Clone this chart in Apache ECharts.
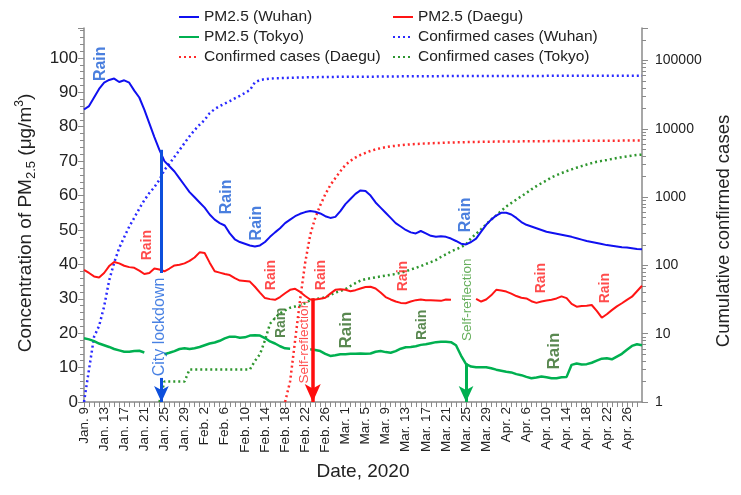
<!DOCTYPE html>
<html>
<head>
<meta charset="utf-8">
<script src="https://cdn.jsdelivr.net/npm/echarts@6/dist/echarts.min.js"></script>
<style>html,body{margin:0;padding:0;background:#fff}#c{width:741px;height:495px}</style>
</head>
<body>
<div id="c"></div>
<script>
// ---- tick labels (every 4th day from Jan. 9, 2020) ----
const tickLabels = ['Jan. 9','Jan. 13','Jan. 17','Jan. 21','Jan. 25','Jan. 29','Feb. 2','Feb. 6','Feb. 10','Feb. 14','Feb. 18','Feb. 22','Feb. 26','Mar. 1','Mar. 5','Mar. 9','Mar. 13','Mar. 17','Mar. 21','Mar. 25','Mar. 29','Apr. 2','Apr. 6','Apr. 10','Apr. 14','Apr. 18','Apr. 22','Apr. 26'];

// ---- daily values, day 0 = Jan. 9 ... day 111 = Apr. 29 ----
const pmWuhan = [85,86,88.5,91,92.8,93.6,94,93,93.5,92.8,
  90.5,88.5,85,81,77,73.3,70,68.5,67,65,
  63,61,59.5,58,56.5,54.5,53,52,51.3,49,
  47.3,46.5,46,45.5,45.2,45.5,46.5,48,49.3,50.5,
  52,53,54,54.7,55.2,55.5,55.3,54.8,54,53.5,
  53.8,55.5,57.5,59,60.5,61.5,61.3,60,58,56.5,
  55,53.5,52,51,50,49.3,49,49.7,49,48.3,
  48,48.2,48,47.5,46.8,46,45.8,46.5,47.5,49.5,
  51.5,53,54.2,55,55,54.5,53.5,52.3,51.5,51,
  50.5,50,49.5,49.2,48.9,48.6,48.3,48,47.6,47.2,
  46.8,46.5,46.2,45.9,45.6,45.4,45.2,45,44.9,44.7,44.5,44.4];

const pmDaegu = [38.4,37.5,36.5,36.2,37.5,39.5,40.7,40.3,39.6,39.2,
  39,38.2,37.2,37.5,38.8,38.5,38,38.8,39.7,39.9,
  40.3,41,42,43.5,43.3,40.5,38,37.6,37.2,36.9,
  36,35.3,35.2,35,33.5,31.8,30.2,29.9,29.7,30.5,
  31.6,32.6,32.9,32,30.8,29.8,29.8,30,30.3,31.5,
  32.6,32.8,32.6,32.2,32.5,33,33.4,33.5,33,31.8,
  30.5,29.8,29.2,28.8,28.7,29.2,29.6,29.8,29.6,29.6,
  29.5,29.4,29.8,29.7,null,null,null,null,30,29.2,
  29.8,31,32.6,32.4,32.1,31.5,30.8,30.3,30.1,29.3,
  28.8,29.2,29.5,29.7,30.1,30.7,30.2,28.5,27.7,27.9,
  28,28.2,26.5,24.5,25.5,26.7,27.8,28.7,29.7,30.6,32.2,33.8];

const pmTokyo = [18.5,18.2,17.7,17,16.5,16,15.4,15,14.6,14.6,
  14.8,14.9,14.4,null,null,null,13.9,14.3,14.8,15.4,
  15.6,15.4,15.6,16,16.5,17,17.3,17.8,18.5,19,
  19,18.7,18.8,19.3,19.4,19.3,18.6,17.6,17,16.2,
  15.6,15.5,null,null,null,15.3,15.1,14.8,14,13.4,
  13.6,13.9,13.9,14,14,14.1,14,14.1,14.6,14.8,
  14.5,14.3,14.8,15.5,15.9,16,16.2,16.6,16.8,17.1,
  17.4,17.5,17.5,17.4,16.5,13.5,11,10.3,10.1,10.1,
  10.1,9.8,9.4,9.1,8.8,8.6,8.1,7.8,7.3,6.9,
  7.1,7.4,7.2,6.9,6.9,7.2,7.3,10.8,11.2,10.9,
  11,11.4,12,12.6,12.7,12.4,13.2,14,15.2,16.3,16.8,16.5];

const casesWuhan = [1,3,9,13,25,60,110,180,260,370,
  500,680,900,1150,1400,1800,2500,3100,3900,4900,
  6200,7800,9600,11500,13500,17000,19500,21500,23500,25500,
  28000,30500,33500,37000,48000,52000,53500,54500,55000,55300,
  55600,55900,56200,56500,56700,56900,57100,57300,57500,57600,
  57700,57800,57900,58000,58000,58100,58100,58200,58200,58300,
  58400,58500,58600,58700,58800,58900,59000,59000,59100,59100,
  59200,59200,59300,59300,59400,59400,59500,59500,59500,59500,
  59500,59500,59600,59600,59600,59600,59700,59700,59700,59700,
  59700,59700,59700,59800,59800,59800,59800,59800,59800,59800,
  59800,59800,59800,59800,59800,59800,59800,59800,59800,59800,59800,59800];

const casesDaegu = [null,null,null,null,null,null,null,null,null,null,
  null,null,null,null,null,null,null,null,null,null,
  null,null,null,null,null,null,null,null,null,null,
  null,null,null,null,null,null,null,null,null,null,
  1,2,8,32,110,280,500,760,1100,1500,
  1900,2400,2950,3400,3800,4150,4450,4750,5000,5200,
  5400,5550,5650,5750,5850,5930,6000,6060,6110,6160,
  6200,6240,6280,6310,6340,6370,6400,6420,6440,6460,
  6480,6500,6510,6520,6530,6540,6550,6560,6570,6580,
  6590,6600,6610,6620,6630,6640,6650,6660,6670,6680,
  6690,6700,6700,6710,6710,6720,6720,6730,6730,6740,6740,6750];

const casesTokyo = [null,null,null,null,null,null,null,null,null,null,
  null,null,null,null,null,1,2,2,2,2,
  2,3,3,3,3,3,3,3,3,3,
  3,3,3,3,4,5,8,14,17,20,
  22,24,25,26,28,31,32,33,34,37,
  40,42,45,50,55,60,63,65,67,69,
  71,73,75,78,82,87,92,98,105,112,
  120,133,145,160,172,185,205,250,290,340,
  400,470,540,630,730,820,920,1030,1150,1300,
  1450,1600,1750,1950,2100,2250,2400,2550,2700,2850,
  3000,3150,3300,3400,3500,3620,3740,3850,3950,4050,4150,4200];

// ---- annotation anchors in data coordinates [day, PM2.5] ----
const rainBlue = [[3.4,98.3],[28.4,59.6],[34.4,52],[76,54.4]];
const rainRed = [[12.6,45.6],[37.3,36.9],[47.2,36.9],[63.4,36.6],[90.9,36],[103.7,33.1]];
const rainGreenSmall = [[39.3,23],[67.2,22.4]];
const rainGreenBig = [[52.1,20.9],[93.6,14.8]];
const lockdownText = [15.0,21.8];
const selfRedText = [43.8,17.4];
const selfGreenText = [76.2,29.7];
const lockdownArrow = {x:15.4, top:73.3, gapTop:37.5, gapBottom:7};
const redArrow = {x:45.5, top:30.1};
const greenArrow = {x:76, top:11.2};

const FONT = '"Liberation Sans", Arial, sans-serif';
const toXY = arr => arr.map((v,i)=>[i,v]);

function textItem(pos, text, color, size, weight) {
  return {value: pos, label: {show:true, position:'inside', formatter:text, rotate:90,
    color:color, fontSize:size, fontWeight:weight||'normal', fontFamily:FONT}};
}
const notes = [];
rainBlue.forEach(p=>notes.push(textItem(p,'Rain','#1d5fd6',16,'bold')));
rainRed.forEach(p=>notes.push(textItem(p,'Rain','#ff1f1f',14,'bold')));
rainGreenSmall.forEach(p=>notes.push(textItem(p,'Rain','#2f6a24',14,'bold')));
rainGreenBig.forEach(p=>notes.push(textItem(p,'Rain','#2f6a24',17,'bold')));
notes.push(textItem(lockdownText,'City lockdown','#1a62dc',16,'normal'));
notes.push(textItem(selfRedText,'Self-reflection','#ff1f1f',13.5,'normal'));
notes.push(textItem(selfGreenText,'Self-reflection','#3f9a32',13.5,'normal'));

const chart = echarts.init(document.getElementById('c'), null, {renderer:'canvas'});
const axisGray = '#8a8a8a';
const lineSeries = (name, data, yIdx, color, width, type) => ({
  name, type:'line', data: toXY(data), yAxisIndex: yIdx, showSymbol:false, symbol:'none',
  connectNulls:false, smooth:false,
  lineStyle:{color, width, type: type||'solid'}, itemStyle:{color},
  emphasis:{disabled:true}, z: type ? 2 : 3
});

const sWuhan = lineSeries('PM2.5 (Wuhan)', pmWuhan, 0, '#1010f0', 2);
sWuhan.markLine = {silent:true, symbol:['none','arrow'], symbolSize:[11,16], label:{show:false},
  lineStyle:{color:'#0d4fdc', width:3, type:'solid'}, emphasis:{disabled:true},
  data:[
    [{coord:[lockdownArrow.x, lockdownArrow.top], symbol:'none'},{coord:[lockdownArrow.x, lockdownArrow.gapTop], symbol:'none'}],
    [{coord:[lockdownArrow.x, lockdownArrow.gapBottom], symbol:'none'},{coord:[lockdownArrow.x, 0]}]
  ]};
const sDaegu = lineSeries('PM2.5 (Daegu)', pmDaegu, 0, '#ff1414', 2);
sDaegu.markLine = {silent:true, symbol:['none','arrow'], symbolSize:[12,18], label:{show:false},
  lineStyle:{color:'#ff0d0d', width:3.5, type:'solid'}, emphasis:{disabled:true},
  data:[[{coord:[redArrow.x, redArrow.top], symbol:'none'},{coord:[redArrow.x, 0]}]]};
const sTokyo = lineSeries('PM2.5 (Tokyo)', pmTokyo, 0, '#00b050', 2.5);
sTokyo.markLine = {silent:true, symbol:['none','arrow'], symbolSize:[11,16], label:{show:false},
  lineStyle:{color:'#00b050', width:3, type:'solid'}, emphasis:{disabled:true},
  data:[[{coord:[greenArrow.x, greenArrow.top], symbol:'none'},{coord:[greenArrow.x, 0]}]]};

const dot = [2,3];
const legendBase = {top:4, orient:'vertical', itemWidth:20, itemHeight:14, itemGap:4,
  itemStyle:{opacity:0}, selectedMode:false,
  textStyle:{fontSize:15.5, color:'#222', fontFamily:FONT}};
const option = {
  animation:false,
  backgroundColor:'#fff',
  textStyle:{fontFamily:FONT},
  grid:{left:84, right:96, top:28, bottom:93, containLabel:false},
  legend:[
    Object.assign({left:173, data:['PM2.5 (Wuhan)','PM2.5 (Tokyo)','Confirmed cases (Daegu)']}, legendBase),
    Object.assign({left:387, data:['PM2.5 (Daegu)','Confirmed cases (Wuhan)','Confirmed cases (Tokyo)']}, legendBase)
  ],
  xAxis:{type:'value', min:0, max:111, interval:1,
    name:'Date, 2020', nameLocation:'middle', nameGap:60,
    nameTextStyle:{fontSize:19, color:'#222', fontFamily:FONT},
    axisLine:{lineStyle:{color:axisGray, width:1.5}},
    axisTick:{show:true, length:5, lineStyle:{color:axisGray}},
    splitLine:{show:false},
    axisLabel:{rotate:90, fontSize:13.5, color:'#222', margin:5, fontFamily:FONT,
      showMaxLabel:false,
      formatter:v => (v % 4 === 0 && tickLabels[v/4]) ? tickLabels[v/4] : ''}},
  yAxis:[
    {type:'value', min:0, max:108.7, interval:10, position:'left',
     name:'{a|Concentration of PM}{s|2.5}{a| (μg/m}{p|3}{a|)}', nameLocation:'middle', nameGap:46,
     nameTextStyle:{color:'#222', padding:[0,16,0,0], rich:{
       a:{fontSize:19, fontFamily:FONT, color:'#222', lineHeight:24, verticalAlign:'middle'},
       s:{fontSize:13, fontFamily:FONT, color:'#222', lineHeight:24, verticalAlign:'bottom', padding:[10,0,0,0]},
       p:{fontSize:12, fontFamily:FONT, color:'#222', lineHeight:24, verticalAlign:'top', padding:[0,0,8,0]}}},
     axisLine:{show:true, lineStyle:{color:axisGray, width:1.5}},
     axisTick:{show:true, length:6, lineStyle:{color:axisGray}},
     minorTick:{show:true, splitNumber:5, length:4, lineStyle:{color:axisGray}},
     splitLine:{show:false},
     axisLabel:{fontSize:17, color:'#222', margin:6, showMaxLabel:false, fontFamily:FONT}},
    {type:'log', logBase:10, min:1, max:300000, position:'right',
     name:'Cumulative confirmed cases', nameLocation:'middle', nameGap:72,
     nameTextStyle:{fontSize:18.5, color:'#222', fontFamily:FONT, padding:[0,32,0,0]},
     axisLine:{show:true, lineStyle:{color:axisGray, width:1.5}},
     axisTick:{show:true, length:6, lineStyle:{color:axisGray}},
     minorTick:{show:true, splitNumber:9, length:4, lineStyle:{color:axisGray}},
     splitLine:{show:false},
     axisLabel:{fontSize:14, color:'#222', margin:13, showMaxLabel:false, fontFamily:FONT,
       formatter:v => String(Math.round(v))}}
  ],
  series:[
    sWuhan, sDaegu, sTokyo,
    lineSeries('Confirmed cases (Wuhan)', casesWuhan, 1, '#2a2aff', 2.5, dot),
    lineSeries('Confirmed cases (Daegu)', casesDaegu, 1, '#ff2a2a', 2.5, dot),
    lineSeries('Confirmed cases (Tokyo)', casesTokyo, 1, '#2e962e', 2.5, dot),
    {name:'notes', type:'scatter', yAxisIndex:0, data:notes, symbolSize:1,
     itemStyle:{color:'rgba(0,0,0,0)'}, silent:true, z:10, emphasis:{disabled:true}}
  ]
};
chart.setOption(option);
</script>
</body>
</html>
